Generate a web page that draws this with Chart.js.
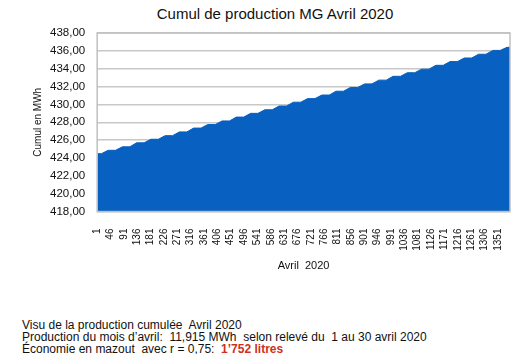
<!DOCTYPE html>
<html>
<head>
<meta charset="utf-8">
<script src="https://cdn.jsdelivr.net/npm/chart.js@4/dist/chart.umd.min.js"></script>
<style>
  body { margin: 0; background: #fff; font-family: "Liberation Sans", Arial, sans-serif; }
  #wrap { position: relative; width: 524px; height: 354px; }
  #box { position: absolute; left: 0; top: 0; width: 524px; height: 273px; }
  #titre { position: absolute; top: 5px; left: 0; width: 550px; text-align: center; font-size: 15px; color: #111; }
  #notes { position: absolute; left: 22px; top: 319px; font-size: 12px; line-height: 12px; color: #111; white-space: nowrap; }
  #notes b { color: #d03020; }
</style>
</head>
<body>
<div id="wrap">
  <div id="titre">Cumul de production MG Avril 2020</div>
  <div id="box"><canvas id="chart"></canvas></div>
  <div id="notes">
    Visu de la production cumulée&nbsp; Avril 2020<br>
    Production du mois d’avril:&nbsp; 11,915 MWh&nbsp; selon relevé du&nbsp; 1 au 30 avril 2020<br>
    Économie en mazout&nbsp; avec r = 0,75:&nbsp; <b>1’752 litres</b>
  </div>
</div>
<script>
// x tick labels (half-hour index)
const tickLabels = ['1', '46', '91', '136', '181', '226', '271', '316', '361', '406',
  '451', '496', '541', '586', '631', '676', '721', '766', '811', '856', '901', '946',
  '991', '1036', '1081', '1126', '1171', '1216', '1261', '1306', '1351'];

// cumul: start value, then value at end of each day
const cumulDepart = 424.48;
const jours = [1, 2, 3, 4, 5, 6, 7, 8, 9, 10, 11, 12, 13, 14, 15, 16, 17, 18, 19, 20,
  21, 22, 23, 24, 25, 26, 27, 28, 29];
const cumulFinJour = [424.86, 425.25, 425.70, 426.10, 426.50, 426.92, 427.35, 427.75,
  428.15, 428.58, 429.00, 429.40, 429.82, 430.25, 430.65, 431.05, 431.48, 431.90,
  432.30, 432.72, 433.15, 433.55, 433.95, 434.38, 434.80, 435.20, 435.62, 436.05, 436.40];
const nbMesures = 1392;

// staircase: flat at night, rise during the day (48 readings per day)
const points = [{ x: 1, y: cumulDepart }];
let prev = cumulDepart;
jours.forEach((j, i) => {
  const base = (j - 1) * 48;
  points.push({ x: base + 15, y: prev });
  points.push({ x: base + 38, y: cumulFinJour[i] });
  prev = cumulFinJour[i];
});
points.push({ x: nbMesures, y: prev });

const frame = {
  id: 'frame',
  afterDatasetsDraw(chart) {
    const a = chart.chartArea, ctx = chart.ctx;
    ctx.save();
    ctx.strokeStyle = '#c0c0c0';
    ctx.lineWidth = 1.5;
    ctx.strokeRect(a.left, a.top, a.right - a.left, a.bottom - a.top);
    ctx.restore();
  }
};

new Chart(document.getElementById('chart'), {
  type: 'line',
  data: {
    datasets: [{
      data: points,
      borderColor: '#0860c0',
      backgroundColor: '#0860c0',
      borderWidth: 1,
      pointRadius: 0,
      fill: 'start',
      tension: 0
    }]
  },
  options: {
    responsive: true,
    maintainAspectRatio: false,
    animation: false,
    layout: { padding: { left: 32, top: 33, right: 14, bottom: 0 } },
    plugins: { legend: { display: false }, tooltip: { enabled: false } },
    scales: {
      x: {
        type: 'linear',
        min: 1,
        max: nbMesures,
        afterBuildTicks: axis => { axis.ticks = tickLabels.map(t => ({ value: Number(t) })); },
        grid: { display: false },
        border: { display: false },
        ticks: {
          autoSkip: false,
          minRotation: 90,
          maxRotation: 90,
          padding: 9,
          color: '#111',
          font: { family: 'Liberation Sans', size: 10 },
          callback: v => String(v)
        },
        title: {
          display: true,
          text: 'Avril  2020',
          color: '#111',
          font: { family: 'Liberation Sans', size: 11 },
          padding: { top: 0, bottom: 0 }
        }
      },
      y: {
        min: 418,
        max: 438,
        ticks: {
          stepSize: 2,
          padding: 12,
          color: '#111',
          font: { family: 'Liberation Sans', size: 11.5 },
          callback: v => v.toFixed(2).replace('.', ',')
        },
        grid: { color: '#c8c8c8', lineWidth: 1.5, drawTicks: false },
        border: { display: false },
        title: {
          display: true,
          text: 'Cumul en MWh',
          color: '#111',
          font: { family: 'Liberation Sans', size: 10 },
          padding: { top: 0, bottom: -6 }
        }
      }
    }
  },
  plugins: [frame]
});
</script>
</body>
</html>
